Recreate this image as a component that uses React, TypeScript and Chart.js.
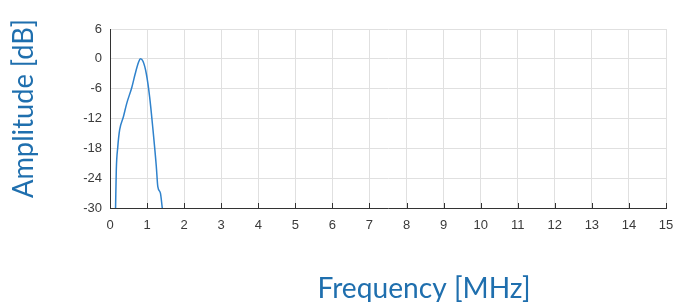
import React, { useEffect, useRef } from "react";
import { Chart, registerables } from "chart.js";

Chart.register(...registerables);

const freqMHz = [0.15, 0.17, 0.21, 0.26, 0.36, 0.45, 0.59, 0.68, 0.77, 0.82, 0.89, 0.98, 1.07, 1.16, 1.25, 1.29, 1.36, 1.41];
const amplitudeDb = [-30, -22.3, -17.7, -14.3, -11.7, -9, -5.7, -3, -0.7, 0, -0.5, -3, -7.7, -14.3, -21.7, -25.7, -27, -30];
const xTicks = [0, 1, 2, 3, 4, 5, 6, 7, 8, 9, 10, 11, 12, 13, 14, 15];
const yTicks = [6, 0, -6, -12, -18, -24, -30];
const xTitle = "Frequency [MHz]";
const yTitle = "Amplitude [dB]";

const TITLE_COLOR = "#1f6fae";
const TICK_COLOR = "#3a3a3a";
const TITLE_FONT = "29px Lato, 'Open Sans', sans-serif";

function drawFitted(ctx: CanvasRenderingContext2D, text: string, x: number, y: number, rot: number, targetW: number) {
  ctx.save();
  ctx.font = TITLE_FONT;
  const w = ctx.measureText(text).width;
  ctx.translate(x, y);
  ctx.rotate(rot);
  ctx.scale(targetW / w, 1);
  ctx.textAlign = "center";
  ctx.textBaseline = "alphabetic";
  ctx.fillStyle = TITLE_COLOR;
  ctx.fillText(text, 0, 0);
  ctx.restore();
}

const extras = {
  id: "extras",
  afterDatasetsDraw(chart: any) {
    const { ctx, chartArea, scales } = chart;
    ctx.save();
    ctx.strokeStyle = "#333333";
    ctx.lineWidth = 1;
    ctx.beginPath();
    for (const v of xTicks) {
      const px = Math.round(scales.x.getPixelForValue(v)) + 0.5;
      ctx.moveTo(px, chartArea.bottom);
      ctx.lineTo(px, chartArea.bottom - 5);
    }
    ctx.stroke();
    ctx.restore();
    drawFitted(ctx, xTitle, 424, 298, 0, 213);
    drawFitted(ctx, yTitle, 33, 108.5, -Math.PI / 2, 179);
  },
};

export default function App() {
  const ref = useRef<HTMLCanvasElement>(null);
  useEffect(() => {
    if (!ref.current) return;
    const points = freqMHz.map((f, i) => ({ x: f, y: amplitudeDb[i] }));
    const chart = new Chart(ref.current, {
      type: "line",
      data: {
        datasets: [
          {
            data: points,
            borderColor: "#2f82cc",
            borderWidth: 1.5,
            pointRadius: 0,
            cubicInterpolationMode: "monotone",
            fill: false,
          },
        ],
      },
      plugins: [extras],
      options: {
        animation: false,
        responsive: false,
        maintainAspectRatio: false,
        layout: { padding: { top: 29, right: 12, bottom: 0, left: 0 } },
        plugins: { legend: { display: false }, tooltip: { enabled: false } },
        scales: {
          x: {
            type: "linear",
            min: 0,
            max: 15,
            afterBuildTicks: (s: any) => {
              s.ticks = xTicks.map((v) => ({ value: v }));
            },
            afterFit: (s: any) => {
              s.height = 94;
              s.paddingLeft = 0;
              s.paddingRight = 0;
            },
            ticks: {
              color: TICK_COLOR,
              font: { family: "Liberation Sans, Arial", size: 13 },
              padding: 10,
              maxRotation: 0,
            },
            grid: { color: "#e0e0e0", drawTicks: false },
            border: { color: "#333333", width: 1 },
          },
          y: {
            type: "linear",
            min: -30,
            max: 6,
            afterBuildTicks: (s: any) => {
              s.ticks = yTicks.map((v) => ({ value: v }));
            },
            afterFit: (s: any) => {
              s.width = 110;
              s.paddingTop = 0;
              s.paddingBottom = 0;
            },
            ticks: {
              color: TICK_COLOR,
              font: { family: "Liberation Sans, Arial", size: 13 },
              padding: 8,
            },
            grid: { color: "#e0e0e0", drawTicks: false },
            border: { color: "#333333", width: 1 },
          },
        },
      },
    });
    return () => chart.destroy();
  }, []);
  return (
    <div style={{ position: "fixed", left: 0, top: 0, width: 678, height: 302, background: "#fff" }}>
      <canvas ref={ref} width={678} height={302} style={{ width: 678, height: 302 }} />
    </div>
  );
}
